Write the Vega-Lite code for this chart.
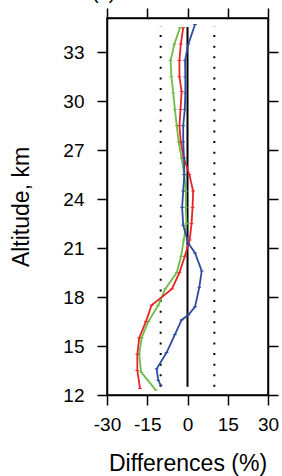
{
  "$schema": "https://vega.github.io/schema/vega-lite/v6.json",
  "width": 161,
  "height": 377,
  "autosize": "none",
  "padding": {"left": 107, "top": 18, "right": 14, "bottom": 81},
  "title": {"text": "(c)", "anchor": "start", "frame": "group", "font": "Liberation Sans", "fontSize": 20, "fontWeight": "normal", "color": "black", "dx": -15, "dy": 12, "offset": 0, "baseline": "alphabetic"},
  "config": {
    "view": {"stroke": "black", "strokeWidth": 1.5},
    "axis": {
      "labelFont": "Liberation Sans", "labelFontSize": 19, "labelColor": "black", "labelOverlap": false, "labelFlush": false,
      "titleFont": "Liberation Sans", "titleFontSize": 23, "titleFontWeight": "normal", "titleColor": "black",
      "tickSize": 10, "tickWidth": 1.5, "tickColor": "black",
      "domainColor": "black", "domainWidth": 1.5, "grid": false
    }
  },
  "datasets": {
    "profiles": [
      {"series": "green", "alt": 34.5, "diff": -2.8},
      {"series": "green", "alt": 33.5, "diff": -4.9},
      {"series": "green", "alt": 32.5, "diff": -6.3},
      {"series": "green", "alt": 31.5, "diff": -6.0},
      {"series": "green", "alt": 30.5, "diff": -5.3},
      {"series": "green", "alt": 29.5, "diff": -4.7},
      {"series": "green", "alt": 28.5, "diff": -4.0},
      {"series": "green", "alt": 27.5, "diff": -3.3},
      {"series": "green", "alt": 26.5, "diff": -2.2},
      {"series": "green", "alt": 25.5, "diff": -1.2},
      {"series": "green", "alt": 24.5, "diff": -0.6},
      {"series": "green", "alt": 23.5, "diff": -0.6},
      {"series": "green", "alt": 22.5, "diff": -0.4},
      {"series": "green", "alt": 21.5, "diff": -1.4},
      {"series": "green", "alt": 20.5, "diff": -2.4},
      {"series": "green", "alt": 19.5, "diff": -4.0},
      {"series": "green", "alt": 18.5, "diff": -8.3},
      {"series": "green", "alt": 17.5, "diff": -10.9},
      {"series": "green", "alt": 16.5, "diff": -14.6},
      {"series": "green", "alt": 15.5, "diff": -17.1},
      {"series": "green", "alt": 14.5, "diff": -18.0},
      {"series": "green", "alt": 13.4, "diff": -17.3},
      {"series": "green", "alt": 12.3, "diff": -11.8},
      {"series": "red", "alt": 34.5, "diff": -1.6},
      {"series": "red", "alt": 33.5, "diff": -2.5},
      {"series": "red", "alt": 32.5, "diff": -3.0},
      {"series": "red", "alt": 31.5, "diff": -3.0},
      {"series": "red", "alt": 30.6, "diff": -2.2},
      {"series": "red", "alt": 29.5, "diff": -2.6},
      {"series": "red", "alt": 28.5, "diff": -3.0},
      {"series": "red", "alt": 27.5, "diff": -2.5},
      {"series": "red", "alt": 26.6, "diff": -1.5},
      {"series": "red", "alt": 25.5, "diff": 0.7},
      {"series": "red", "alt": 24.5, "diff": 2.1},
      {"series": "red", "alt": 23.5, "diff": 1.9},
      {"series": "red", "alt": 22.5, "diff": 1.5},
      {"series": "red", "alt": 21.5, "diff": 0.8},
      {"series": "red", "alt": 20.5, "diff": -1.0},
      {"series": "red", "alt": 19.5, "diff": -3.0},
      {"series": "red", "alt": 18.5, "diff": -5.8},
      {"series": "red", "alt": 17.5, "diff": -13.4},
      {"series": "red", "alt": 16.5, "diff": -15.5},
      {"series": "red", "alt": 15.5, "diff": -18.0},
      {"series": "red", "alt": 14.5, "diff": -18.7},
      {"series": "red", "alt": 13.5, "diff": -18.7},
      {"series": "red", "alt": 12.4, "diff": -17.7},
      {"series": "blue", "alt": 34.7, "diff": 2.8},
      {"series": "blue", "alt": 33.5, "diff": 0.3},
      {"series": "blue", "alt": 32.5, "diff": -0.9},
      {"series": "blue", "alt": 31.5, "diff": -0.8},
      {"series": "blue", "alt": 30.5, "diff": -0.8},
      {"series": "blue", "alt": 29.5, "diff": -1.0},
      {"series": "blue", "alt": 28.5, "diff": -1.6},
      {"series": "blue", "alt": 27.5, "diff": -1.6},
      {"series": "blue", "alt": 26.5, "diff": -1.3},
      {"series": "blue", "alt": 25.5, "diff": -1.2},
      {"series": "blue", "alt": 24.5, "diff": -1.6},
      {"series": "blue", "alt": 23.5, "diff": -2.0},
      {"series": "blue", "alt": 22.4, "diff": -1.6},
      {"series": "blue", "alt": 21.3, "diff": 0.3},
      {"series": "blue", "alt": 20.7, "diff": 2.8},
      {"series": "blue", "alt": 19.6, "diff": 5.3},
      {"series": "blue", "alt": 18.6, "diff": 4.4},
      {"series": "blue", "alt": 17.4, "diff": 2.8},
      {"series": "blue", "alt": 16.9, "diff": 0.3},
      {"series": "blue", "alt": 16.6, "diff": -2.2},
      {"series": "blue", "alt": 15.7, "diff": -4.7},
      {"series": "blue", "alt": 14.6, "diff": -7.8},
      {"series": "blue", "alt": 13.6, "diff": -11.5},
      {"series": "blue", "alt": 12.9, "diff": -10.9},
      {"series": "blue", "alt": 12.6, "diff": -10.0}
    ],
    "limits": [{"x": -10}, {"x": 10}],
    "zero": [{"x": 0}]
  },
  "layer": [
    {
      "data": {"name": "limits"},
      "mark": {"type": "rule", "color": "black", "strokeWidth": 2, "strokeDash": [2, 8.6]},
      "encoding": {
        "x": {"field": "x", "type": "quantitative",
              "scale": {"domain": [-30, 30], "nice": false, "zero": false},
              "axis": {"orient": "bottom", "values": [-30, -15, 0, 15, 30], "title": "Differences (%)",
                       "labelPadding": 10, "titlePadding": 18,
                       "labelExpr": "datum.value < 0 ? '-' + abs(datum.value) : '' + datum.value"}},
        "y": {"datum": 12.5, "type": "quantitative",
              "scale": {"domain": [12, 35.1], "nice": false, "zero": false},
              "axis": {"orient": "left", "values": [12, 15, 18, 21, 24, 27, 30, 33], "title": "Altitude, km",
                       "labelPadding": 13, "titlePadding": 29}},
        "y2": {"datum": 34.6}
      }
    },
    {
      "data": {"name": "zero"},
      "mark": {"type": "rule", "color": "black", "strokeWidth": 2},
      "encoding": {
        "x": {"field": "x", "type": "quantitative",
              "scale": {"domain": [-30, 30], "nice": false, "zero": false},
              "axis": {"orient": "top", "values": [-30, -15, 0, 15, 30], "labels": false, "title": null}},
        "y": {"datum": 12.5, "type": "quantitative",
              "scale": {"domain": [12, 35.1], "nice": false, "zero": false},
              "axis": {"orient": "right", "values": [12, 15, 18, 21, 24, 27, 30, 33], "labels": false, "title": null}},
        "y2": {"datum": 34.55}
      }
    },
    {
      "data": {"name": "profiles"},
      "mark": {"type": "line", "strokeWidth": 1.8},
      "encoding": {
        "x": {"field": "diff", "type": "quantitative", "scale": {"domain": [-30, 30], "nice": false, "zero": false}, "axis": null},
        "y": {"field": "alt", "type": "quantitative", "scale": {"domain": [12, 35.1], "nice": false, "zero": false}, "axis": null},
        "order": {"field": "alt"},
        "color": {"field": "series", "type": "nominal", "legend": null,
                  "scale": {"domain": ["green", "red", "blue"], "range": ["#6cbd45", "#e8232b", "#2e4c9f"]}}
      }
    },
    {
      "data": {"name": "profiles"},
      "mark": {"type": "point", "shape": "M-1,0L1,0", "size": 14, "strokeWidth": 1, "filled": false, "opacity": 1},
      "encoding": {
        "x": {"field": "diff", "type": "quantitative", "scale": {"domain": [-30, 30], "nice": false, "zero": false}, "axis": null},
        "y": {"field": "alt", "type": "quantitative", "scale": {"domain": [12, 35.1], "nice": false, "zero": false}, "axis": null},
        "color": {"field": "series", "type": "nominal", "legend": null,
                  "scale": {"domain": ["green", "red", "blue"], "range": ["#6cbd45", "#e8232b", "#2e4c9f"]}}
      }
    }
  ],
  "resolve": {"axis": {"x": "independent", "y": "independent"}}
}
